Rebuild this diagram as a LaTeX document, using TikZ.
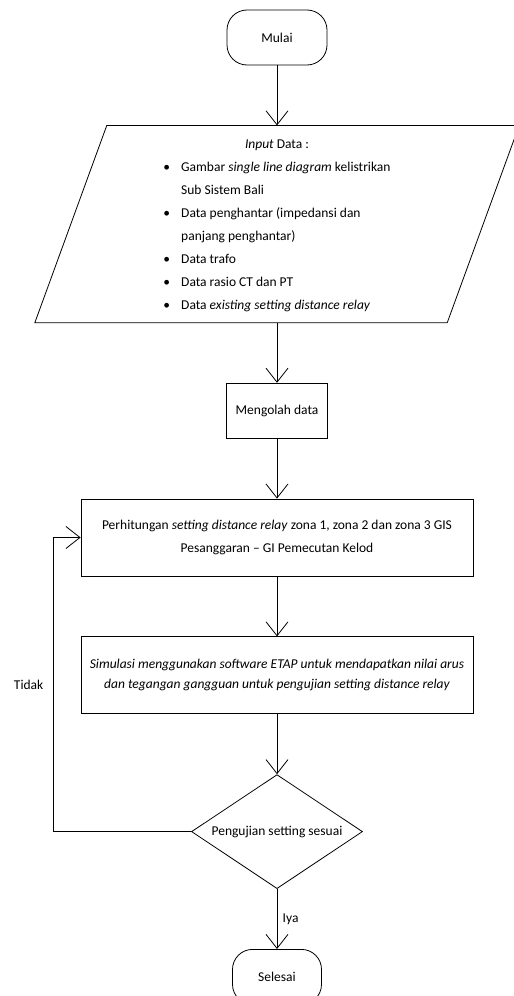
\documentclass[tikz,border=0pt]{standalone}
\usepackage{fontspec}
\setmainfont{Carlito}
\usetikzlibrary{shapes,arrows.meta,positioning}

\begin{document}
\begin{tikzpicture}[
  node distance=60pt,
  every node/.style={font=\fontsize{13.5}{23}\selectfont},
  terminal/.style={draw, rectangle, rounded corners=20pt, minimum height=55pt, line width=0.8pt},
  process/.style={draw, rectangle, minimum width=392pt, minimum height=77pt, line width=0.8pt, align=center},
  decision/.style={draw, diamond, aspect=1.5, minimum width=171pt, minimum height=114pt, inner sep=0pt, line width=0.8pt},
  flow/.style={-{Straight Barb[length=14pt,width=22pt]}, line width=0.8pt}
]
\useasboundingbox (0,0) rectangle (514pt,-996pt);

% Start
\node[terminal, minimum width=100pt] (mulai) at (277pt,-37.5pt) {Mulai};

% Input data
\node[minimum width=412pt, minimum height=197pt, inner sep=0pt, below=of mulai] (inp) {%
  \begin{tabular}{@{}c@{\hspace{11pt}}l@{}}
    \multicolumn{2}{c}{\textit{Input} Data :}\\
    \textbullet & Gambar \textit{single line diagram} kelistrikan\\
                & Sub Sistem Bali\\
    \textbullet & Data penghantar (impedansi dan\\
                & panjang penghantar)\\
    \textbullet & Data trafo\\
    \textbullet & Data rasio CT dan PT\\
    \textbullet & Data \textit{existing setting distance relay}
  \end{tabular}};
\draw[line width=0.8pt] ([xshift=36pt]inp.north west) -- ([xshift=36pt]inp.north east)
  -- ([xshift=-36pt]inp.south east) -- ([xshift=-36pt]inp.south west) -- cycle;

% Processing
\node[process, minimum width=101pt, minimum height=55pt, below=of inp] (olah) {Mengolah data};
\node[process, below=of olah] (hitung) {Perhitungan \textit{setting distance relay} zona 1, zona 2 dan zona 3 GIS\\Pesanggaran -- GI Pemecutan Kelod};
\node[process, below=of hitung, font=\fontsize{13.5}{20}\selectfont\itshape] (sim) {Simulasi menggunakan software ETAP untuk mendapatkan nilai arus\\dan tegangan gangguan untuk pengujian setting distance relay};

% Decision and end
\node[decision, below=of sim] (uji) {Pengujian setting sesuai};
\node[terminal, minimum width=89pt, below=of uji] (selesai) {Selesai};

% Arrows
\draw[flow] (mulai) -- (inp);
\draw[flow] (inp) -- (olah);
\draw[flow] (olah) -- (hitung);
\draw[flow] (hitung) -- (sim);
\draw[flow] (sim) -- (uji);
\draw[flow] (uji) -- node[right=2pt] {Iya} (selesai);
\coordinate[left=138pt of uji.west] (balik);
\draw[flow] (uji.west) -- (balik) |- node[pos=0.25, left=6pt] {Tidak} (hitung.west);

\end{tikzpicture}
\end{document}
